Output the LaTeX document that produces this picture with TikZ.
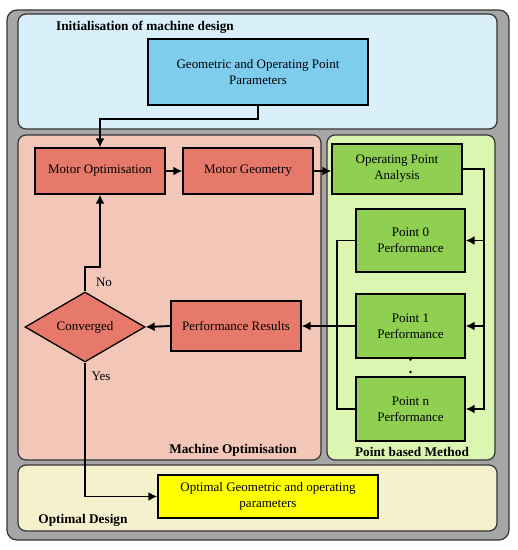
\documentclass[tikz,border=0pt]{standalone}
\usepackage{fontspec}
\setmainfont{Liberation Serif}
\usetikzlibrary{positioning,arrows.meta,shapes.geometric}
\definecolor{FrameGrey}{HTML}{A6A6A6}
\definecolor{PanelBlue}{HTML}{D9EFFA}
\definecolor{BoxBlue}{HTML}{7FCDEE}
\definecolor{PanelRed}{HTML}{F2C7B8}
\definecolor{BoxRed}{HTML}{E6796A}
\definecolor{PanelGreen}{HTML}{DBF6B0}
\definecolor{BoxGreen}{HTML}{8FD053}
\definecolor{PanelYellow}{HTML}{F6F1CD}
\definecolor{BoxYellow}{HTML}{FFFF00}

\begin{document}
\begin{tikzpicture}[x=1pt,y=-1pt,every node/.style={font=\fontsize{13}{16}\selectfont,align=center},
  panel/.style={draw=black!80,line width=1.2pt,rounded corners=8pt,inner sep=0pt},
  box/.style={draw=black,line width=1.3pt,inner sep=2pt},
  title/.style={font=\fontsize{13.3}{15}\selectfont\bfseries},
  flow/.style={-{Latex[length=9pt,width=9pt]},line width=1.9pt},
  wire/.style={line width=1.9pt}]
  \useasboundingbox (0,0) rectangle (518,550);
  % containers
  \node[panel,fill=FrameGrey,rounded corners=10pt,minimum width=502pt,minimum height=530pt] (frame) at (258,275) {};
  \node[panel,fill=PanelBlue,minimum width=479pt,minimum height=115pt] (initpanel) at (257.5,71.5) {};
  \node[panel,fill=PanelRed,minimum width=303pt,minimum height=325pt] (optpanel) at (169.5,297.5) {};
  \node[panel,fill=PanelGreen,minimum width=168pt,minimum height=325pt] (pointpanel) at (411,297.5) {};
  \node[panel,fill=PanelYellow,minimum width=479pt,minimum height=66pt] (designpanel) at (257.5,498) {};
  \node[title] (inittitle) at (145,27) {Initialisation of machine design};
  \node[title] (opttitle) at (233,450) {Machine Optimisation};
  \node[title] (pointtitle) at (412,452) {Point based Method};
  \node[title] (designtitle) at (83,520) {Optimal Design};

  % blocks
  \node[box,fill=BoxBlue,minimum width=220pt,minimum height=66pt] (geomparams) at (258,72) {Geometric and Operating Point\\Parameters};
  \node[box,fill=BoxRed,minimum width=130pt,minimum height=46pt] (motoropt) at (100,171) {Motor Optimisation};
  \node[box,fill=BoxRed,minimum width=130pt,minimum height=46pt] (motorgeom) at (248,171) {Motor Geometry};
  \node[box,fill=BoxGreen,minimum width=130pt,minimum height=50pt] (opanalysis) at (397,169) {Operating Point\\Analysis};
  \node[box,fill=BoxGreen,minimum width=109pt,minimum height=63pt] (point0) at (410.5,240.5) {Point 0\\Performance};
  \node[box,fill=BoxGreen,minimum width=109pt,minimum height=64pt] (point1) at (410.5,326) {Point 1\\Performance};
  \node[box,fill=BoxGreen,minimum width=109pt,minimum height=64pt] (pointn) at (410.5,409) {Point n\\Performance};
  \node[box,fill=BoxRed,minimum width=130pt,minimum height=50pt] (perfresults) at (236,326) {Performance Results};
  \node[box,diamond,fill=BoxRed,aspect=1.7,inner sep=0pt,minimum width=120pt,minimum height=70pt] (converged) at (85,327) {Converged};
  \node[box,fill=BoxYellow,minimum width=220pt,minimum height=43pt] (optimal) at (268,496.5) {Optimal Geometric and operating\\parameters};
  \fill (410.5,359.5) circle (1.3pt) (410.5,372) circle (1.3pt);

  % connectors
  \coordinate (rbus) at (484,0);
  \coordinate (lbus) at (337,0);
  \draw[flow] (geomparams.south) -- ++(0,13) -| (motoropt.north);
  \draw[flow] (motoropt.east) -- (motorgeom.west);
  \draw[flow] (motorgeom.east) -- (opanalysis.west |- motorgeom.east);
  \draw[flow] (opanalysis.east) -| (rbus |- pointn.east) -- (pointn.east);
  \draw[flow] (rbus |- point0.east) -- (point0.east);
  \draw[flow] (rbus |- point1.east) -- (point1.east);
  \draw[wire] (point0.west) -| (lbus |- pointn.west) -- (pointn.west);
  \draw[flow] (point1.west) -- (perfresults.east);
  \draw[flow] (perfresults.west) -- (converged.east);
  \draw[flow] (converged.north) -- ++(0,-24) -| (motoropt.south);
  \draw[flow] (converged.south) |- (optimal.west);
  \node (nolabel) at (104,282) {No};
  \node (yeslabel) at (101,376) {Yes};
\end{tikzpicture}
\end{document}
